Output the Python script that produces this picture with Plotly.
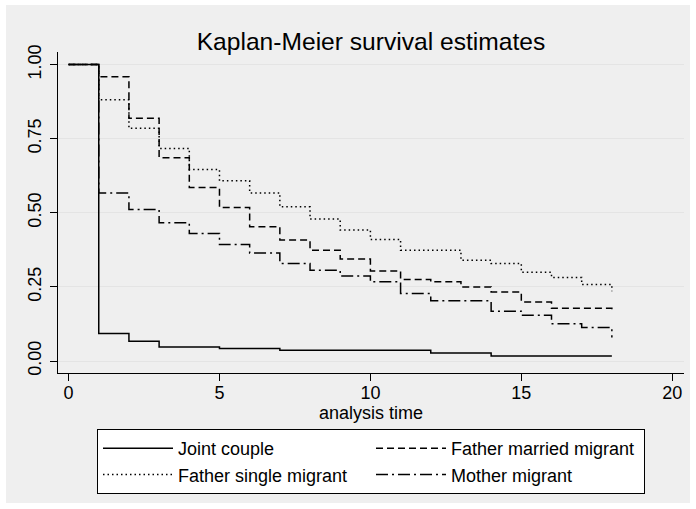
import plotly.graph_objects as go

# ---- data ----
time = list(range(0, 19))

joint_couple = [1.0, 0.093, 0.067, 0.047, 0.047, 0.042, 0.042, 0.036, 0.036, 0.036,
                0.036, 0.036, 0.027, 0.027, 0.017, 0.017, 0.017, 0.017, 0.017]
father_married = [1.0, 0.959, 0.819, 0.686, 0.585, 0.518, 0.453, 0.408, 0.374, 0.344,
                  0.304, 0.275, 0.267, 0.250, 0.233, 0.199, 0.178, 0.178, 0.169]
father_single = [1.0, 0.881, 0.785, 0.717, 0.646, 0.608, 0.567, 0.520, 0.479, 0.442,
                 0.410, 0.374, 0.374, 0.340, 0.329, 0.299, 0.282, 0.258, 0.235]
mother_migrant = [1.0, 0.567, 0.511, 0.466, 0.430, 0.393, 0.364, 0.329, 0.306, 0.287,
                  0.267, 0.228, 0.203, 0.203, 0.168, 0.154, 0.126, 0.113, 0.079]

series_names = ["Joint couple", "Father married migrant", "Father single migrant", "Mother migrant"]
series_values = [joint_couple, father_married, father_single, mother_migrant]
series_dash = ["solid", "7px,4px", "1.5px,3px", "12px,4px,2px,4px"]

x_ticks = [0, 5, 10, 15, 20]
y_ticks = [0, 0.25, 0.5, 0.75, 1.0]
y_ticklabels = ["0.00", "0.25", "0.50", "0.75", "1.00"]

FONT = "Liberation Sans, Arial, Helvetica, sans-serif"

fig = go.Figure()
for name, vals, dash in zip(series_names, series_values, series_dash):
    fig.add_trace(go.Scatter(
        x=time, y=vals, name=name, mode="lines",
        line=dict(color="black", width=1.5, dash=dash, shape="hv"),
        hoverinfo="skip",
    ))

fig.update_layout(
    width=696, height=509,
    margin=dict(l=58, r=12, t=52, b=136, autoexpand=False),
    paper_bgcolor="white",
    plot_bgcolor="white",
    font=dict(family=FONT, size=18, color="black"),
    title=dict(text="Kaplan-Meier survival estimates", font=dict(size=24.6, color="black"),
               x=0.5, xref="paper", xanchor="center",
               y=1 - 41.5 / 509, yref="container", yanchor="middle"),
    showlegend=True,
    legend=dict(
        orientation="h", x=0.5, xanchor="center", y=-0.1745, yanchor="top",
        bgcolor="white", bordercolor="black", borderwidth=1,
        font=dict(size=18, color="black"),
        itemwidth=70, entrywidth=188, entrywidthmode="pixels",
        traceorder="normal",
    ),
    shapes=[dict(type="rect", xref="paper", yref="paper",
                 x0=(6 - 58) / 626, x1=(690 - 58) / 626,
                 y0=(373 - 503) / 321, y1=(373 - 5) / 321,
                 fillcolor="#efefef", line=dict(width=0), layer="below")],
)

fig.update_xaxes(
    range=[-0.35, 20.39], tickvals=x_ticks, showgrid=False, zeroline=False,
    showline=True, linecolor="black", linewidth=1,
    ticks="outside", ticklen=7, tickcolor="black", tickwidth=1,
    tickfont=dict(size=18), ticklabelstandoff=-4,
    title=dict(text="analysis time", font=dict(size=18), standoff=0),
)
fig.update_yaxes(
    range=[-0.0405, 1.0425], tickvals=y_ticks, ticktext=y_ticklabels,
    showgrid=True, gridcolor="#e4e4e4", gridwidth=1, zeroline=False,
    showline=True, linecolor="black", linewidth=1,
    ticks="outside", ticklen=7, tickcolor="black", tickwidth=1,
    tickangle=-90, tickfont=dict(size=18), ticklabelstandoff=2,
)

fig.write_html(
    "out.html",
    config={"displayModeBar": False},
    post_script="document.body.style.margin='0';document.body.style.padding='0';",
)
